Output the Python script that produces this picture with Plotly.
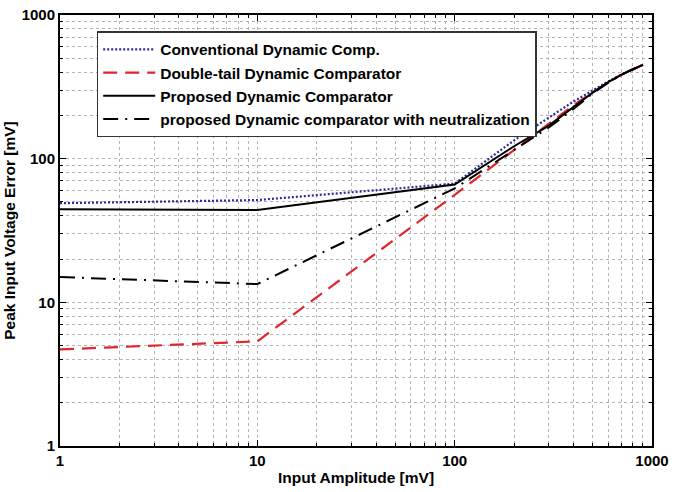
import plotly.graph_objects as go

# Input amplitude [mV]
amplitude = [1, 10, 100, 200, 300, 400, 500, 600, 700, 800, 900]

# Peak input voltage error [mV]
conventional = [49, 51.5, 67, 134, 193, 250, 298, 345, 385, 420, 450]
double_tail = [4.7, 5.35, 56, 114, 175, 236, 287, 340, 383, 420, 450]
proposed = [44.5, 44, 66, 122, 170, 228, 288, 341, 385, 419, 450]
proposed_neutral = [15, 13.4, 62, 116, 165, 222, 284, 338, 384, 419, 450]

series = [
    ("Conventional Dynamic Comp.", conventional, "#2a2a9c", "2px,2px", 2.2),
    ("Double-tail Dynamic Comparator", double_tail, "#e0262b", "14px,8px", 2.2),
    ("Proposed Dynamic Comparator", proposed, "#000000", "solid", 2.0),
    ("proposed Dynamic comparator with neutralization", proposed_neutral,
     "#000000", "15px,7px,2px,7px", 2.0),
]

fig = go.Figure()
for name, values, colour, dash, width in series:
    fig.add_trace(go.Scatter(
        x=amplitude, y=values,
        mode="lines",
        name=name,
        line=dict(color=colour, dash=dash, width=width),
    ))

bold = dict(family="Liberation Sans, Arial", color="black", weight="bold")

axis_common = dict(
    type="log",
    range=[0, 3],
    dtick=1,
    showline=True,
    linecolor="black",
    linewidth=2,
    mirror="allticks",
    ticks="inside",
    ticklen=6,
    tickcolor="black",
    showgrid=True,
    gridcolor="#b4b4b4",
    griddash="dot",
    gridwidth=1,
    zeroline=False,
    tickfont=dict(bold, size=15),
    minor=dict(
        dtick="D1",
        ticks="inside",
        ticklen=3,
        tickcolor="black",
        showgrid=True,
        gridcolor="#b4b4b4",
        griddash="dot",
        gridwidth=1,
    ),
    automargin=False,
)

fig.update_layout(
    width=674,
    height=492,
    margin=dict(l=60, r=22, t=15, b=46),
    paper_bgcolor="white",
    plot_bgcolor="white",
    font=dict(family="Liberation Sans, Arial", color="black"),
    xaxis=dict(
        axis_common,
        title=dict(text="Input Amplitude [mV]", standoff=4,
                   font=dict(bold, size=15.5)),
    ),
    yaxis=dict(
        axis_common,
        title=dict(text="Peak Input Voltage Error [mV]", standoff=2,
                   font=dict(bold, size=15.5)),
    ),
    legend=dict(
        x=0.062, y=0.962,
        xanchor="left", yanchor="top",
        bgcolor="white",
        bordercolor="#333333",
        borderwidth=1.5,
        itemwidth=52,
        font=dict(bold, size=15.5),
        tracegroupgap=0,
    ),
    showlegend=True,
)

# page margin off so the 674x492 figure sits flush in the window
fig.write_html(
    "out.html",
    config={"displayModeBar": False},
    post_script="document.body.style.margin='0';",
)
